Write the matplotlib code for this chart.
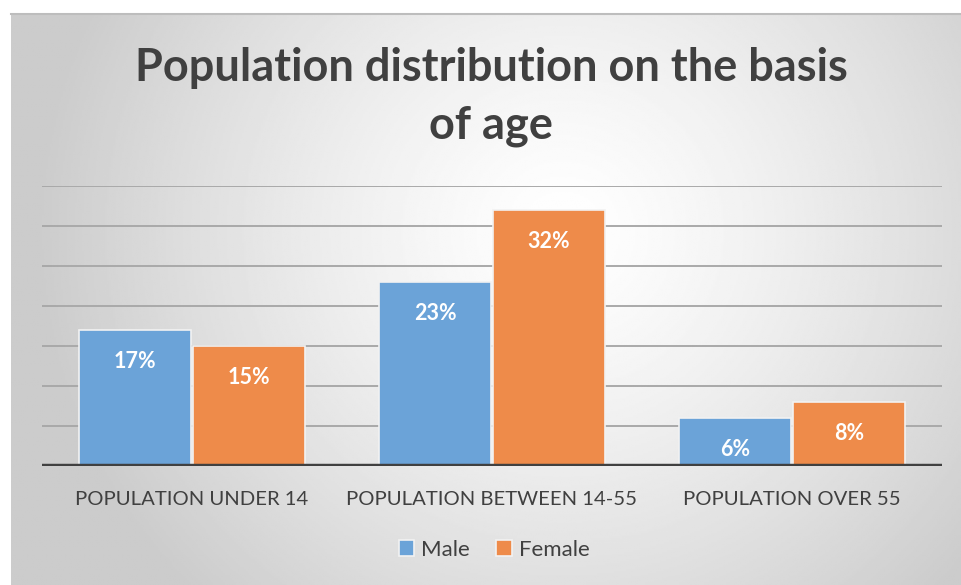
import numpy as np
import matplotlib
matplotlib.use("Agg")
import matplotlib.pyplot as plt

categories = ["POPULATION UNDER 14", "POPULATION BETWEEN 14-55", "POPULATION OVER 55"]
male = [17, 23, 6]
female = [15, 32, 8]
series_names = ["Male", "Female"]
title = "Population distribution on the basis\nof age"

W, H, DPI = 961, 585, 100
fig = plt.figure(figsize=(W / DPI, H / DPI), dpi=DPI)
fig.patch.set_facecolor("white")

# radial gradient panel behind the chart
bg = fig.add_axes([11 / W, 0, (W - 11) / W, (H - 14) / H])
bg.set_axis_off()
ny, nx = 300, 500
yy, xx = np.mgrid[0:ny, 0:nx]
cx, cy = 0.58 * nx, 0.38 * ny
r = np.sqrt(((xx - cx) / nx) ** 2 + ((yy - cy) / ny * 0.62) ** 2)
r = np.clip(r / 0.55, 0, 1)
val = 1.0 - (1.0 - 0.80) * r ** 1.3
bg.imshow(val, cmap="gray", vmin=0, vmax=1, aspect="auto", extent=[0, 1, 0, 1], origin="upper")
bg.set_xlim(0, 1)
bg.set_ylim(0, 1)
# top edge line of the panel
bg.plot([0, 1], [1, 1], color="#bdbdbd", lw=1.5, transform=bg.transAxes, clip_on=False)

# plot area: x 42..942 px, y 186..466 px (0..35%)
left, right, top, bottom = 42, 942, 186, 466
ax = fig.add_axes([left / W, 1 - bottom / H, (right - left) / W, (bottom - top) / H])
ax.set_facecolor("none")
ax.set_xlim(-0.5, 2.5)
ax.set_ylim(0, 35)

x = np.arange(len(categories))
bw = 0.376
off = 0.19
blue = "#6BA3D8"
orange = "#EE8B4A"
b1 = ax.bar(x - off, male, bw, color=blue, edgecolor="#f2f2f2", linewidth=1.2, zorder=3, label=series_names[0])
b2 = ax.bar(x + off, female, bw, color=orange, edgecolor="#f2f2f2", linewidth=1.2, zorder=3, label=series_names[1])

for bars, vals in ((b1, male), (b2, female)):
    for rect, v in zip(bars, vals):
        ax.annotate(f"{v}%", (rect.get_x() + rect.get_width() / 2, v),
                    xytext=(0, -23), textcoords="offset points",
                    ha="center", va="center", color="white",
                    fontsize=15.5, fontweight="bold", family="Lato", zorder=4)

for g in range(5, 36, 5):
    ax.axhline(g, color="#a9a9a9", lw=1.4, zorder=1)
ax.axhline(0, color="#404040", lw=3.2, zorder=5)

for s in ax.spines.values():
    s.set_visible(False)
ax.set_yticks([])
ax.set_xticks(x)
ax.set_xticklabels(categories, family="Lato", fontsize=14.6, color="#404040")
ax.tick_params(axis="x", length=0, pad=18)

fig.text(491 / W, 1 - 97 / H, title, ha="center", va="center", fontsize=32.5,
         fontweight="bold", family="Lato", color="#404040", linespacing=1.44)

leg = fig.legend(handles=[b1, b2], labels=series_names, loc="center",
                 bbox_to_anchor=(494 / W, 1 - 550 / H), ncol=2, frameon=False,
                 prop={"family": "Lato", "size": 16}, handlelength=0.7, handleheight=0.7,
                 handletextpad=0.3, columnspacing=1.2)
for t in leg.get_texts():
    t.set_color("#404040")

fig.savefig("out.png", dpi=DPI)
